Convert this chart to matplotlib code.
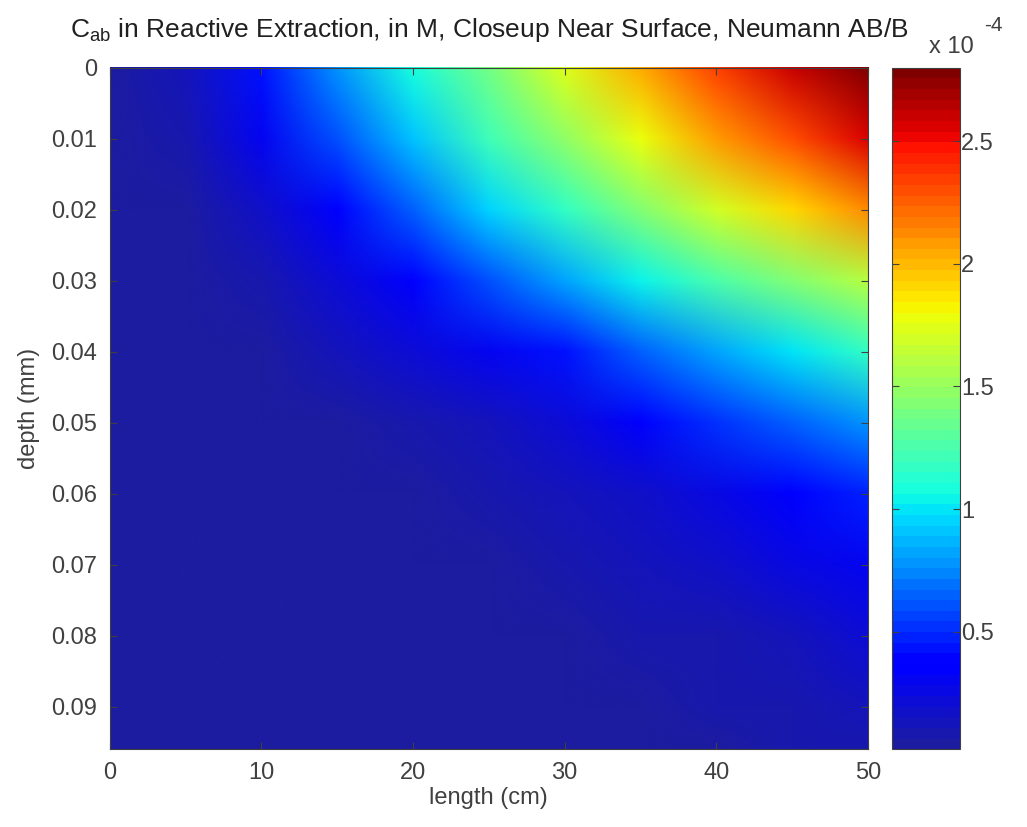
"""
C_ab in reactive extraction, closeup near surface (Neumann AB/B)
"""

import numpy as np
import matplotlib
matplotlib.use("Agg")
import matplotlib.pyplot as plt
from matplotlib.colors import ListedColormap
from matplotlib.image import NonUniformImage


# -----------------------------
# Data
# -----------------------------

length_cm = [0, 5, 10, 15, 20, 25, 30, 35, 40, 45, 50]

depth_mm = [0.0, 0.01, 0.02, 0.03, 0.04, 0.05, 0.06, 0.07, 0.08, 0.09, 0.096]

# concentration in units of 1e-4 M, one row per depth
cab_e4 = [
    [0.02, 0.13, 0.43, 0.76, 1.08, 1.40, 1.72, 2.04, 2.35, 2.60, 2.80],
    [0.02, 0.07, 0.31, 0.61, 0.90, 1.21, 1.48, 1.78, 2.07, 2.32, 2.56],
    [0.02, 0.04, 0.17, 0.41, 0.66, 0.95, 1.18, 1.43, 1.70, 1.90, 2.12],
    [0.02, 0.02, 0.08, 0.23, 0.40, 0.62, 0.83, 1.04, 1.24, 1.44, 1.62],
    [0.02, 0.02, 0.04, 0.11, 0.20, 0.31, 0.45, 0.66, 0.84, 1.00, 1.18],
    [0.02, 0.02, 0.03, 0.06, 0.10, 0.15, 0.23, 0.36, 0.52, 0.67, 0.78],
    [0.02, 0.02, 0.02, 0.04, 0.06, 0.08, 0.12, 0.19, 0.28, 0.37, 0.47],
    [0.02, 0.02, 0.02, 0.03, 0.04, 0.05, 0.07, 0.11, 0.16, 0.24, 0.30],
    [0.02, 0.02, 0.02, 0.02, 0.03, 0.04, 0.05, 0.07, 0.10, 0.15, 0.20],
    [0.02, 0.02, 0.02, 0.02, 0.025, 0.03, 0.04, 0.05, 0.07, 0.10, 0.13],
    [0.02, 0.02, 0.02, 0.02, 0.02, 0.03, 0.035, 0.05, 0.06, 0.08, 0.10],
]

cbar_ticks = [0.5, 1, 1.5, 2, 2.5]
x_ticks = [0, 10, 20, 30, 40, 50]
y_ticks = [0, 0.01, 0.02, 0.03, 0.04, 0.05, 0.06, 0.07, 0.08, 0.09]

vmin, vmax = 0.02, 2.8


# -----------------------------
# Colormap: 64-level jet with the softer navy of the original
# -----------------------------

jet = plt.get_cmap("jet")(np.linspace(0, 1, 64))
n_low = 7
navy = np.array([0.11, 0.11, 0.63, 1.0])
blue = jet[n_low].copy()
for i in range(n_low):
    t = i / n_low
    jet[i] = navy * (1 - t) + blue * t
cmap = ListedColormap(jet)


# -----------------------------
# Plot
# -----------------------------

plt.rcParams["font.family"] = ["Liberation Sans", "DejaVu Sans"]

fig = plt.figure(figsize=(10.27, 8.27), dpi=100)

ax = fig.add_axes([0.107, 0.094, 0.738, 0.824])
cax = fig.add_axes([0.8685, 0.094, 0.0662, 0.824])

img = NonUniformImage(ax, interpolation="bilinear", cmap=cmap,
                      extent=(0, 50, 0.096, 0))
img.set_data(np.array(length_cm), np.array(depth_mm), np.array(cab_e4))
img.set_clim(vmin, vmax)
ax.add_image(img)

ax.set_xlim(0, 50)
ax.set_ylim(0.096, 0)

tick_grey = "#404040"

ax.set_xticks(x_ticks)
ax.set_yticks(y_ticks)
ax.set_xticklabels([str(v) for v in x_ticks])
ax.set_yticklabels(["0"] + [f"{v:.2f}" for v in y_ticks[1:]])
ax.tick_params(direction="in", length=5, labelsize=17, colors=tick_grey,
               top=True, right=True, pad=9)

for s in ax.spines.values():
    s.set_color(tick_grey)
    s.set_linewidth(0.8)

ax.set_xlabel("length (cm)", fontsize=17, color=tick_grey, labelpad=2)
ax.set_ylabel("depth (mm)", fontsize=17, color=tick_grey, labelpad=8)

ax.set_title(r"C$_{\mathregular{ab}}$ in Reactive Extraction, in M, Closeup Near Surface, Neumann AB/B",
             fontsize=19, color="#202020", pad=22)

cb = fig.colorbar(img, cax=cax)
cb.set_ticks(cbar_ticks)
cb.set_ticklabels(["0.5", "1", "1.5", "2", "2.5"])
cax.tick_params(direction="in", length=5, labelsize=17, colors=tick_grey,
                left=True, right=True, pad=1)
cb.outline.set_edgecolor(tick_grey)
cb.outline.set_linewidth(0.8)

# MATLAB-style exponent label above the colorbar
fig.text(0.905, 0.936, "x 10", fontsize=17, color=tick_grey)
fig.text(0.958, 0.962, "-4", fontsize=15, color=tick_grey)

plt.savefig("out.png", dpi=100)
